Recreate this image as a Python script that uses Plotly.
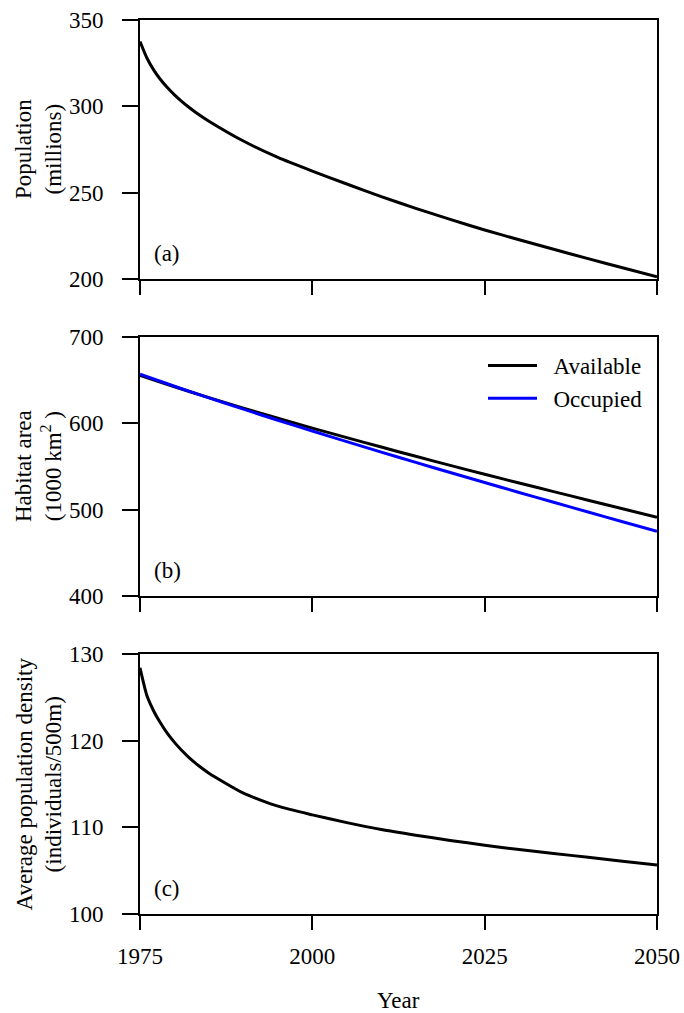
import plotly.graph_objects as go

# ---------------- data ----------------
pop_years = [1975, 1976, 1977, 1978, 1979, 1980, 1981, 1982, 1983, 1984, 1985, 1990, 1995,
             2000, 2005, 2010, 2015, 2020, 2025, 2030, 2035, 2040, 2045, 2050]
population = [337.5, 328.0, 321.0, 315.4, 310.7, 306.6, 303.0, 299.75, 296.75, 294.0, 291.4,
              279.9, 270.4, 262.5, 255.0, 247.75, 240.9, 234.5, 228.4, 222.7, 217.2,
              211.8, 206.5, 201.3]

hab_years = [1975, 1980, 1985, 1990, 1995, 2000, 2005, 2010, 2015, 2020,
             2025, 2030, 2035, 2040, 2045, 2050]
available = [655.5, 642.4, 629.8, 617.6, 605.9, 594.5, 583.4, 572.5, 561.8, 551.3,
             541.0, 530.9, 520.9, 511.0, 501.1, 491.3]
occupied = [657.0, 643.0, 629.5, 616.4, 603.6, 591.1, 578.8, 566.7, 554.8, 543.05,
            531.45, 519.95, 508.55, 497.25, 486.05, 474.95]

dens_years = [1975, 1976, 1977, 1978, 1979, 1980, 1981, 1982, 1983, 1984, 1985, 1990, 1995,
              2000, 2005, 2010, 2015, 2020, 2025, 2030, 2035, 2040, 2045, 2050]
density = [128.4, 125.2, 123.4, 122.0, 120.8, 119.8, 118.92, 118.14, 117.44, 116.81, 116.24,
           113.94, 112.44, 111.44, 110.54, 109.74, 109.09, 108.49, 107.94, 107.44, 106.99,
           106.54, 106.09, 105.64]

x_ticks = [1975, 2000, 2025, 2050]
pop_ticks = [200, 250, 300, 350]
hab_ticks = [400, 500, 600, 700]
dens_ticks = [100, 110, 120, 130]

# ---------------- figure ----------------
FONT = "Liberation Serif, Times New Roman, serif"
FS = 23

fig = go.Figure()
line_style = dict(width=3, shape="spline", smoothing=0.6)
fig.add_trace(go.Scatter(x=pop_years, y=population, mode="lines",
                         line=dict(line_style, color="black"),
                         showlegend=False, xaxis="x", yaxis="y"))
fig.add_trace(go.Scatter(x=hab_years, y=available, mode="lines",
                         name="\u00a0\u00a0Available",
                         line=dict(line_style, color="black"),
                         xaxis="x2", yaxis="y2"))
fig.add_trace(go.Scatter(x=hab_years, y=occupied, mode="lines",
                         name="\u00a0\u00a0Occupied",
                         line=dict(line_style, color="#0000FF"),
                         xaxis="x2", yaxis="y2"))
fig.add_trace(go.Scatter(x=dens_years, y=density, mode="lines",
                         line=dict(line_style, color="black"),
                         showlegend=False, xaxis="x3", yaxis="y3"))

H = 1013
top_px, bot_px = 20, 914
ph = bot_px - top_px


def yp(px):
    return (bot_px - px) / ph


def xp(px):
    return (px - 140) / (657 - 140)


panels = [(20, 279), (337, 596), (654, 914)]

common_x = dict(range=[1975, 2050], tickvals=x_ticks, ticks="outside", ticklen=14,
                tickwidth=2, tickcolor="black", showline=True, linewidth=2, linecolor="black",
                mirror=True, showgrid=False, zeroline=False, domain=[0, 1], automargin=False,
                tickfont=dict(family=FONT, size=FS, color="black"), ticklabelstandoff=6)
common_y = dict(ticks="outside", ticklen=16, tickwidth=2, tickcolor="black",
                showline=True, linewidth=2, linecolor="black", mirror=True,
                showgrid=False, zeroline=False, automargin=False,
                tickfont=dict(family=FONT, size=FS, color="black"), ticklabelstandoff=14)

fig.update_layout(
    template="none",
    xaxis=dict(common_x, anchor="y", showticklabels=False),
    xaxis2=dict(common_x, anchor="y2", showticklabels=False),
    xaxis3=dict(common_x, anchor="y3", showticklabels=True),
    yaxis=dict(common_y, anchor="x", range=[200, 350], tickvals=pop_ticks,
               domain=[yp(panels[0][1]), yp(panels[0][0])]),
    yaxis2=dict(common_y, anchor="x2", range=[400, 700], tickvals=hab_ticks,
                domain=[yp(panels[1][1]), yp(panels[1][0])]),
    yaxis3=dict(common_y, anchor="x3", range=[100, 130], tickvals=dens_ticks,
                domain=[yp(panels[2][1]), yp(panels[2][0])]),
)

annots = []
titles = ["Population<br>(millions)",
          "Habitat area<br>(1000 km<sup>2</sup> )",
          "Average population density<br>(individuals/500m)"]
letters = ["(a)", "(b)", "(c)"]
for (t, b), title, let in zip(panels, titles, letters):
    annots.append(dict(x=xp(38.5), y=yp((t + b) / 2), xref="paper", yref="paper",
                       text=title, textangle=-90, showarrow=False,
                       xanchor="center", yanchor="middle",
                       font=dict(family=FONT, size=FS, color="black")))
    annots.append(dict(x=xp(152), y=yp(b - 26), xref="paper", yref="paper",
                       text=let, showarrow=False, xanchor="left", yanchor="middle",
                       font=dict(family=FONT, size=FS, color="black")))
annots.append(dict(x=xp(398.5), y=yp(1001), xref="paper", yref="paper",
                   text="Year", showarrow=False, xanchor="center", yanchor="middle",
                   font=dict(family=FONT, size=FS, color="black")))

fig.update_layout(
    annotations=annots,
    width=684, height=H,
    margin=dict(l=140, r=27, t=top_px, b=H - bot_px, pad=0, autoexpand=False),
    paper_bgcolor="white", plot_bgcolor="white",
    font=dict(family=FONT, size=FS, color="black"),
    showlegend=True,
    legend=dict(x=xp(483), y=yp(344), xanchor="left", yanchor="top",
                bgcolor="rgba(0,0,0,0)", borderwidth=0, itemwidth=49,
                font=dict(family=FONT, size=FS, color="black"),
                tracegroupgap=0),
)

fig.write_html("out.html")
